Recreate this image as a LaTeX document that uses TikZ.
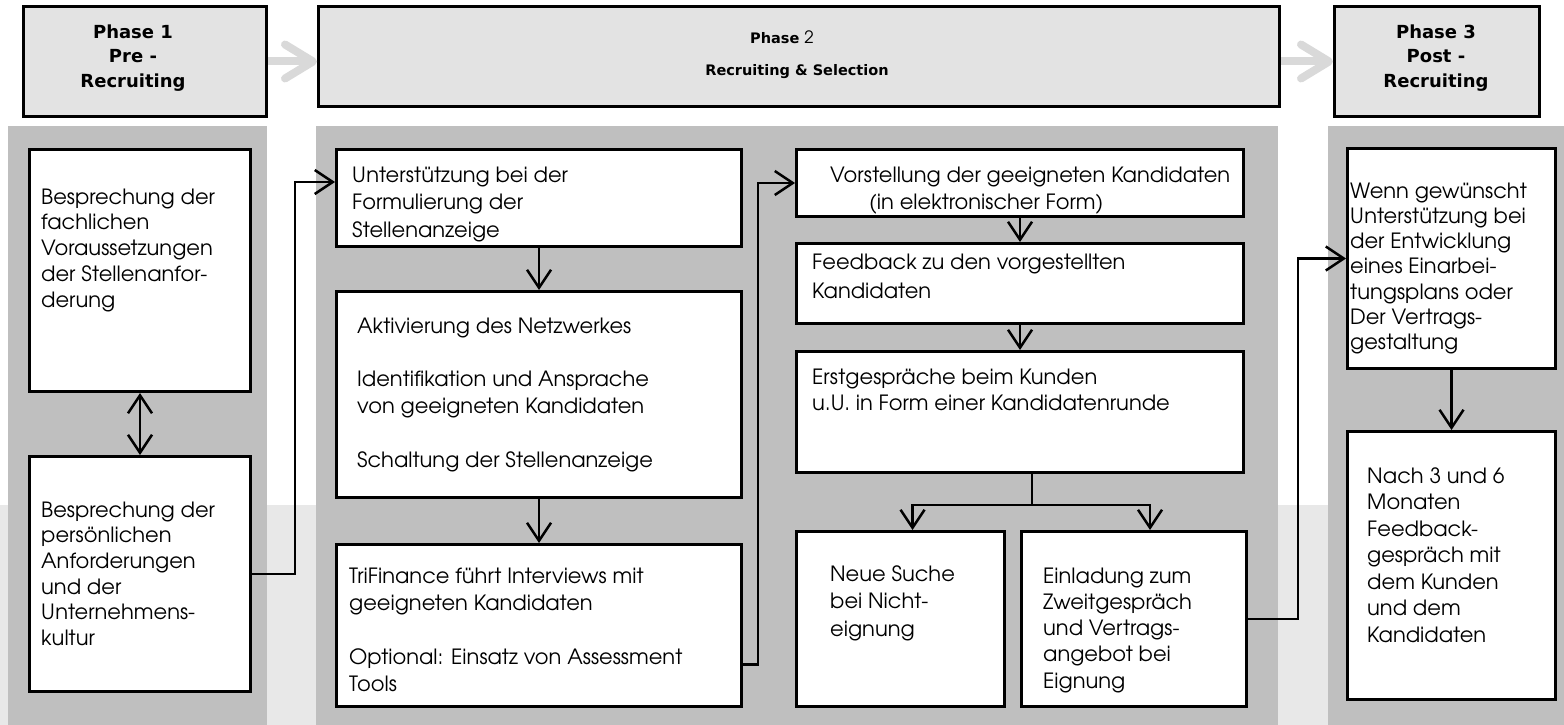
\documentclass[tikz,border=0pt]{standalone}
\usepackage{fontspec}
\setmainfont{texgyreadventor}[Extension=.otf, UprightFont=*-regular, BoldFont=*-bold, ItalicFont=*-italic, BoldItalicFont=*-bolditalic]
\newfontfamily\hdrfont{DejaVu Sans}
\newfontfamily\twofont{texgyreadventor}[Extension=.otf, UprightFont=*-regular]
\usetikzlibrary{arrows.meta,calc}
\definecolor{hdrgray}{HTML}{E3E3E3}
\definecolor{panelgray}{HTML}{BFBFBF}
\definecolor{wmgray}{HTML}{E8E8E8}
\definecolor{arrgray}{HTML}{D9D9D9}
\begin{document}
\begin{tikzpicture}[x=1pt,y=-1pt,
  box/.style={draw=black, fill=white, line width=3pt, inner sep=0pt, anchor=north west},
  hdrbox/.style={draw=black, fill=hdrgray, line width=3pt, inner sep=0pt, anchor=north west},
  txt/.style={anchor=north west, inner sep=0pt, align=left, yshift={0.7*#1pt},
    font=\fontsize{21}{#1}\selectfont},
  txt/.default=26,
  hdrtxt/.style={anchor=north, inner sep=0pt, align=center, yshift={0.7*#1pt},
    font=\hdrfont\bfseries\fontsize{18}{#1}\selectfont},
  hdrtxt/.default=24.5,
  p2txt/.style={inner sep=0pt, anchor=base, font=\hdrfont\bfseries\fontsize{14.5}{16}\selectfont},
  conn/.style={draw=black, line width=2.5pt},
  arr/.style={conn, -{Straight Barb[length=18pt,width=24pt]}},
  dblarr/.style={conn, {Straight Barb[length=18pt,width=24pt]}-{Straight Barb[length=18pt,width=24pt]}},
  hdrarrow/.style={draw=arrgray, line width=8pt, -{Straight Barb[length=28pt,width=34pt,round]}}
]
\useasboundingbox (0,0) rectangle (1564,725);
% background watermark tone
\fill[wmgray] (0,505) rectangle (1564,725);
% panels
\fill[panelgray] (8,126) rectangle (267,725);
\fill[panelgray] (316,126) rectangle (1278,725);
\fill[panelgray] (1328,126) rectangle (1564,725);

% headers
\node[hdrbox, minimum width=243, minimum height=110] (P1) at (22,5) {};
\node[hdrbox, minimum width=961, minimum height=100] (P2) at (317,5) {};
\node[hdrbox, minimum width=205, minimum height=110] (P3) at (1333,5) {};
\node[hdrtxt] (tP1) at (133,38) {\strut Phase 1\\Pre -\\Recruiting};
\node[p2txt] (tP2a) at (782,44) {Phase {\twofont\mdseries\fontsize{17}{17}\selectfont 2}};
\node[p2txt] (tP2b) at (797,76) {Recruiting \& Selection};
\node[hdrtxt] (tP3) at (1436,38) {\strut Phase 3\\Post -\\Recruiting};
\draw[hdrarrow] (P1.east) -- (P1.east -| P2.west);
\draw[hdrarrow] (P2.east |- P3.west) -- (P3.west);

% boxes
\node[box, minimum width=221, minimum height=242] (A) at (28,148) {};
\node[box, minimum width=221, minimum height=235] (B) at (28,455) {};
\node[box, minimum width=405, minimum height=97] (C) at (335,148) {};
\node[box, minimum width=405, minimum height=206] (D) at (335,290) {};
\node[box, minimum width=405, minimum height=162] (E) at (335,543) {};
\node[box, minimum width=447, minimum height=67] (F) at (795,148) {};
\node[box, minimum width=447, minimum height=80] (G) at (795,242) {};
\node[box, minimum width=447, minimum height=121] (H) at (795,350) {};
\node[box, minimum width=208, minimum height=175] (I) at (795,530) {};
\node[box, minimum width=225, minimum height=175] (J) at (1020,530) {};
\node[box, minimum width=208, minimum height=220] (K) at (1346,147) {};
\node[box, minimum width=208, minimum height=268] (L) at (1346,430) {};

% texts
\node[txt=25.7] (tA) at (41,204) {\strut Besprechung der\\fachlichen\\Voraussetzungen\\der Stellenanfor-\\derung};
\node[txt=25.6] (tB) at (41,517) {\strut Besprechung der\\persönlichen\\Anforderungen\\und der\\Unternehmens-\\kultur};
\node[txt=27.5] (tC) at (352,182) {\strut Unterstützung bei der\\Formulierung der\\Stellenanzeige};
\node[txt=26.8] (tD) at (357,333) {\strut Aktivierung des Netzwerkes\\~\\Identifikation und Ansprache\\von geeigneten Kandidaten\\~\\Schaltung der Stellenanzeige};
\node[txt=27] (tE) at (349,583) {\strut TriFinance führt Interviews mit\\geeigneten Kandidaten\\~\\Optional: Einsatz von Assessment\\Tools};
\node[txt=27] (tF) at (830,182) {\strut Vorstellung der geeigneten Kandidaten\\\hspace*{39pt}(in elektronischer Form)};
\node[txt=29] (tG) at (812,269) {\strut Feedback zu den vorgestellten\\Kandidaten};
\node[txt] (tH) at (812,384) {\strut Erstgespräche beim Kunden\\u.U. in Form einer Kandidatenrunde};
\node[txt=27.5] (tI) at (830,581) {\strut Neue Suche\\bei Nicht-\\eignung};
\node[txt=26.2] (tJ) at (1043,583) {\strut Einladung zum\\Zweitgespräch\\und Vertrags-\\angebot bei\\Eignung};
\node[txt=25.2] (tK) at (1350,198) {\strut Wenn gewünscht\\Unterstützung bei\\der Entwicklung\\eines Einarbei-\\tungsplans oder\\Der Vertrags-\\gestaltung};
\node[txt=26.5] (tL) at (1367,483) {\strut Nach 3 und 6\\Monaten\\Feedback-\\gespräch mit\\dem Kunden\\und dem\\Kandidaten};

% connectors
\draw[dblarr] (A.south) -- (B.north);
\draw[arr] (B.east) -- ++(43,0) |- ([yshift=16pt]C.west);
\draw[arr] (C.south) -- (D.north);
\draw[arr] (D.south) -- (E.north);
\draw[arr] ([yshift=-39pt]E.east) -- ++(15,0) |- (F.west);
\draw[arr] (F.south) -- (G.north);
\draw[arr] (G.south) -- (H.north);
\draw[conn] ([xshift=12pt]H.south) -- ++(0,31) coordinate (hs);
\draw[arr] (hs) -| ([xshift=12pt]I.north);
\draw[arr] (hs) -| ([xshift=16pt]J.north);
\draw[arr] (J.east) -- ++(50,0) |- (K.west);
\draw[arr] (K.south) -- (L.north);
\end{tikzpicture}
\end{document}
